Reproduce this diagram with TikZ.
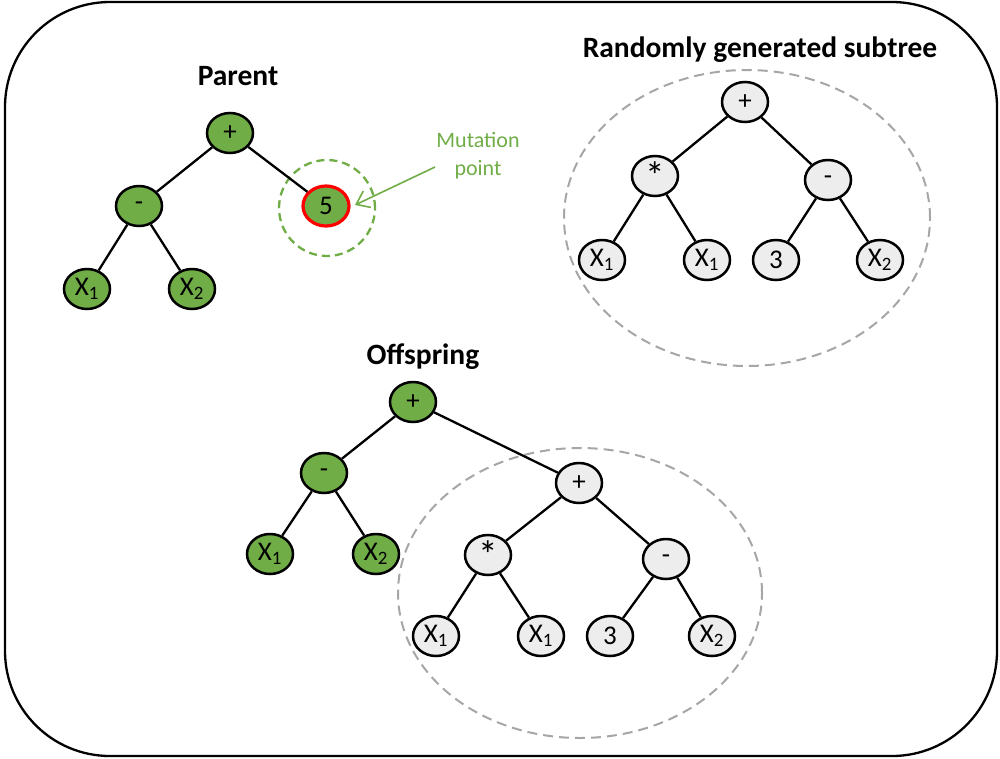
\documentclass[tikz,border=0pt]{standalone}
\usepackage{graphicx}
\usepackage{fontspec}
\setmainfont{Carlito}
\usetikzlibrary{arrows.meta,shapes.geometric}
\definecolor{leafgreen}{HTML}{70AD47}
\definecolor{palegrey}{HTML}{EDEDED}
\definecolor{dashgrey}{HTML}{A6A6A6}
\definecolor{markred}{HTML}{FF0000}
% a larger asterisk, set lower so it sits in the middle of its node
\newcommand{\midstar}{\raisebox{-7pt}{\scalebox{1.45}{*}}}
\begin{document}
\begin{tikzpicture}[x=1pt,y=-1pt,
  tnode/.style={ellipse, draw=black, line width=2.5pt, minimum width=46pt,
    minimum height=40pt, inner sep=0pt, font=\fontsize{27}{27}\selectfont},
  gnode/.style={tnode, fill=leafgreen},
  wnode/.style={tnode, fill=palegrey},
  link/.style={line width=2.3pt, draw=black},
  title/.style={font=\fontsize{29.5}{31}\selectfont\bfseries},
  region/.style={draw=dashgrey, line width=2pt, dash pattern=on 10pt off 6pt},
  note/.style={text=leafgreen, align=center, font=\fontsize{22}{28}\selectfont}
]
\useasboundingbox (0,0) rectangle (1000,758);
\draw[line width=2.3pt, rounded corners=105pt] (5,2) rectangle (997,756);

% ---------- Parent ----------
\node[title] (ptitle) at (238,76) {Parent};
\draw[draw=leafgreen, line width=2.3pt, dash pattern=on 8pt off 5pt] (327,208) circle (48pt);
\node[gnode] (pplus) at (230,133) {+};
\node[gnode] (pminus) at (139,206) {-};
\node[gnode, draw=markred, line width=3.2pt] (pfive) at (326,206) {5};
\node[gnode] (px1) at (87,289) {X\textsubscript{1}};
\node[gnode] (px2) at (192,289) {X\textsubscript{2}};
\draw[link] (pplus) -- (pminus);
\draw[link] (pplus) -- (pfive);
\draw[link] (pminus) -- (px1);
\draw[link] (pminus) -- (px2);

\node[note] (mtext) at (478,156) {Mutation\\point};
\coordinate (mstart) at (435,167);
\coordinate (mtip) at (355,205);
\draw[draw=leafgreen, line width=1.6pt, -{Straight Barb[length=12pt,width=18pt]}] (mstart) -- (mtip);

% ---------- Randomly generated subtree ----------
\node[title] (rtitle) at (760,50) {Randomly generated subtree};
\draw[region] (747,218) ellipse (183pt and 148pt);
\node[wnode] (rplus) at (745,102) {+};
\node[wnode] (rtimes) at (655,176) {\midstar};
\node[wnode] (rminus) at (828,180) {-};
\node[wnode] (ra) at (602,260) {X\textsubscript{1}};
\node[wnode] (rb) at (707,260) {X\textsubscript{1}};
\node[wnode] (rc) at (776,260) {3};
\node[wnode] (rd) at (880,260) {X\textsubscript{2}};
\draw[link] (rplus) -- (rtimes);
\draw[link] (rplus) -- (rminus);
\draw[link] (rtimes) -- (ra);
\draw[link] (rtimes) -- (rb);
\draw[link] (rminus) -- (rc);
\draw[link] (rminus) -- (rd);

% ---------- Offspring ----------
\node[title] (otitle) at (423,357) {Offspring};
\draw[region] (580,593) ellipse (182pt and 145pt);
\node[gnode] (oplus) at (413,402) {+};
\node[gnode] (ominus) at (324,473) {-};
\node[gnode] (ox1) at (270,554) {X\textsubscript{1}};
\node[gnode] (ox2) at (376,554) {X\textsubscript{2}};
\node[wnode] (splus) at (579,483) {+};
\node[wnode] (stimes) at (488,555) {\midstar};
\node[wnode] (sminus) at (666,559) {-};
\node[wnode] (sa) at (436,636) {X\textsubscript{1}};
\node[wnode] (sb) at (541,636) {X\textsubscript{1}};
\node[wnode] (sc) at (610,636) {3};
\node[wnode] (sd) at (712,636) {X\textsubscript{2}};
\draw[link] (oplus) -- (ominus);
\draw[link] (oplus) -- (splus);
\draw[link] (ominus) -- (ox1);
\draw[link] (ominus) -- (ox2);
\draw[link] (splus) -- (stimes);
\draw[link] (splus) -- (sminus);
\draw[link] (stimes) -- (sa);
\draw[link] (stimes) -- (sb);
\draw[link] (sminus) -- (sc);
\draw[link] (sminus) -- (sd);
\end{tikzpicture}
\end{document}
